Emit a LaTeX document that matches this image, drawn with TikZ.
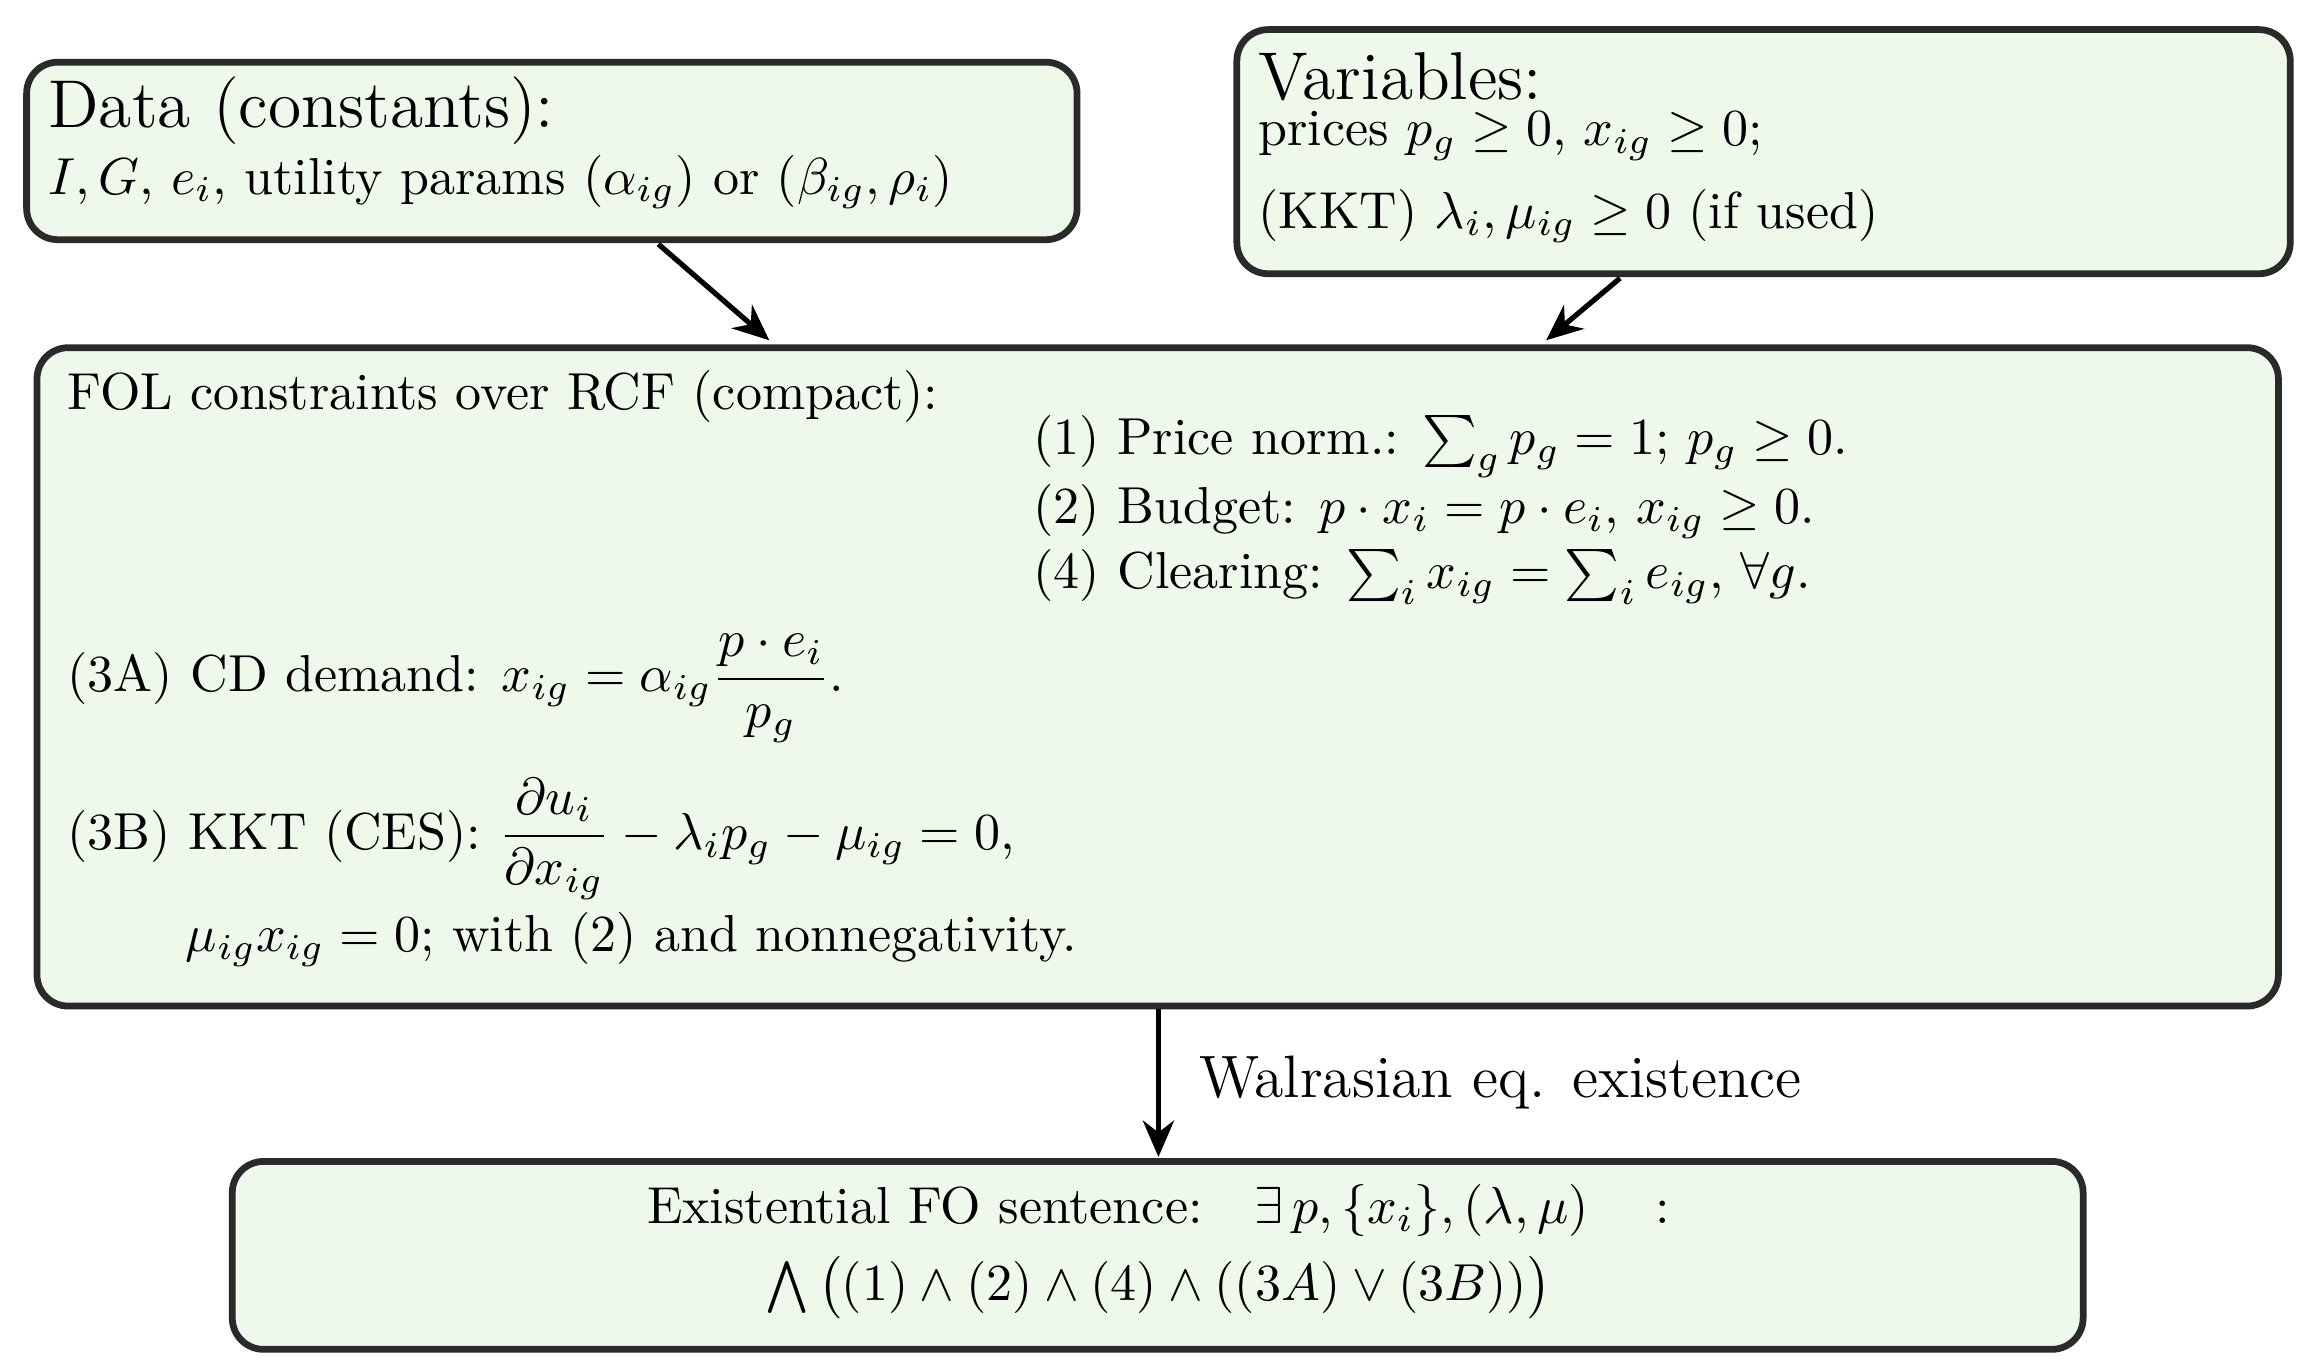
\documentclass[tikz,border=0pt]{standalone}
\usepackage{amsmath,amssymb}
\usetikzlibrary{arrows.meta}
\definecolor{boxfill}{HTML}{EEF9EC}
\definecolor{boxline}{HTML}{2A2A2A}
\begin{document}
\begin{tikzpicture}[x=0.01cm,y=-0.01cm,
  box/.style={draw=boxline,fill=boxfill,rounded corners=6pt,line width=1.3pt},
  txt/.style={anchor=west,inner sep=0pt,font=\fontsize{10}{12}\selectfont},
  ttl/.style={anchor=west,inner sep=0pt,font=\fontsize{13}{15}\selectfont},
  arr/.style={-{Stealth[length=7pt,width=6pt]},line width=1pt}]
\useasboundingbox (0,0) rectangle (1560,926);
\draw[box] (18,42) rectangle (728,162);
\node[ttl] (dt) at (32,75) {Data (constants):};
\node[txt] (dd) at (32,123) {$I,G$, $e_i$, utility params $(\alpha_{ig})$ or $(\beta_{ig},\rho_i)$};
\draw[box] (836,20) rectangle (1548,185);
\node[ttl] (vt) at (850,52) {Variables:};
\node[txt] (v1) at (850,92) {prices $p_g\ge 0$, $x_{ig}\ge 0$;};
\node[txt] (v2) at (850,146) {(KKT) $\lambda_i,\mu_{ig}\ge 0$ (if used)};
\draw[box] (25,235) rectangle (1540,680);
\node[txt] (f0) at (45,268) {FOL constraints over RCF (compact):};
\node[txt] (f1) at (698,302) {(1) Price norm.: $\textstyle\sum_g p_g=1$; $p_g\ge 0$.};
\node[txt] (f2) at (698,346) {(2) Budget: $p\cdot x_i=p\cdot e_i$, $x_{ig}\ge 0$.};
\node[txt] (f4) at (698,390) {(4) Clearing: $\textstyle\sum_i x_{ig}=\sum_i e_{ig}$, $\forall g$.};
\node[txt] (f3a) at (45,465) {(3A) CD demand: $x_{ig}=\alpha_{ig}\dfrac{p\cdot e_i}{p_g}$.};
\node[txt] (f3b) at (45,567) {(3B) KKT (CES): $\dfrac{\partial u_i}{\partial x_{ig}}-\lambda_i p_g-\mu_{ig}=0$,};
\node[txt] (f3c) at (125,635) {$\mu_{ig}x_{ig}=0$; with (2) and nonnegativity.};
\draw[box] (157,785) rectangle (1408,912);
\node[txt] (e1) at (783,818) [anchor=center] {Existential FO sentence:\quad $\exists\, p,\{x_i\},(\lambda,\mu)\quad:$};
\node[txt] (e2) at (783,870) [anchor=center] {$\bigwedge\big((1)\wedge(2)\wedge(4)\wedge((3A)\vee(3B))\big)$};
\coordinate (a1) at (445,165); \coordinate (b1) at (520,230);
\coordinate (a2) at (1095,188); \coordinate (b2) at (1045,230);
\coordinate (a3) at (783,682); \coordinate (b3) at (783,782);
\draw[arr] (a1) -- (b1);
\draw[arr] (a2) -- (b2);
\draw[arr] (a3) -- node[right=4pt,font=\fontsize{11.5}{14}\selectfont] (wl) {Walrasian eq. existence} (b3);
\end{tikzpicture}
\end{document}
